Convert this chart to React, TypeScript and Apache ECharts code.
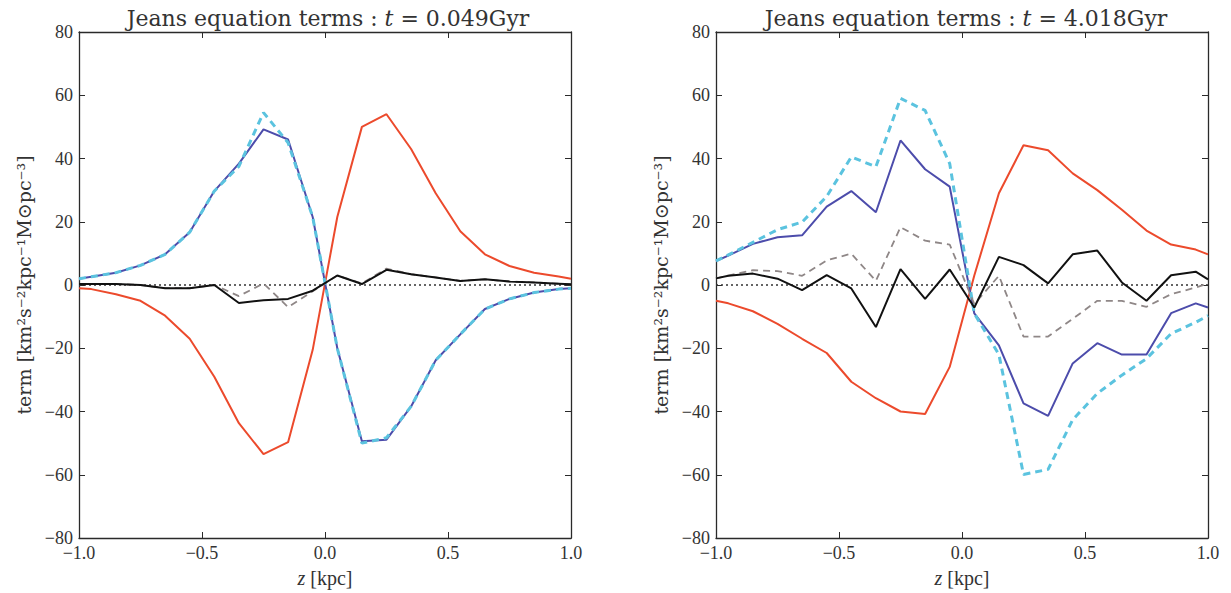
import React, { useEffect, useRef } from "react";
import * as echarts from "echarts";

const Z = [-1.0, -0.95, -0.85, -0.75, -0.65, -0.55, -0.45, -0.35, -0.25, -0.15, -0.05, 0.05, 0.15, 0.25, 0.35, 0.45, 0.55, 0.65, 0.75, 0.85, 0.95, 1.0];

// t = 0.049 Gyr
const blueL = [2.0, 2.6, 3.9, 6.2, 9.7, 16.7, 29.7, 38.4, 49.2, 46.0, 21.5, -20.0, -49.4, -48.9, -38.4, -23.8, -15.6, -7.6, -4.4, -2.4, -1.3, -1.0];
const cyanL = [2.0, 2.6, 3.9, 6.2, 9.7, 16.7, 29.7, 37.5, 54.5, 45.0, 21.5, -20.0, -50.0, -48.3, -38.4, -23.8, -15.6, -7.6, -4.4, -2.4, -1.3, -1.0];
const redL = [-1.0, -1.3, -2.9, -5.0, -9.7, -17.0, -29.0, -43.7, -53.5, -49.7, -20.5, 21.5, 50.0, 54.0, 43.0, 29.0, 17.0, 9.7, 6.0, 3.9, 2.7, 2.0];
const blackL = [0.3, 0.3, 0.3, 0.0, -1.0, -1.0, 0.0, -5.7, -4.8, -4.4, -1.8, 3.0, 0.3, 4.8, 3.4, 2.4, 1.3, 1.8, 1.1, 0.8, 0.4, 0.2];
const grayL = [0.3, 0.3, 0.3, 0.0, -1.0, -1.0, 0.0, -3.5, 0.5, -7.0, -2.0, 3.0, 0.5, 5.2, 3.4, 2.4, 1.3, 1.8, 1.1, 0.8, 0.4, 0.2];

// t = 4.018 Gyr
const blueR = [7.6, 9.3, 13.0, 15.1, 15.7, 24.8, 29.7, 23.0, 45.7, 36.6, 31.1, -9.0, -19.1, -37.4, -41.4, -24.8, -18.4, -22.0, -22.0, -8.9, -5.8, -7.1];
const cyanR = [7.6, 9.5, 13.5, 17.5, 19.9, 28.0, 40.5, 37.4, 59.0, 55.2, 38.4, -9.0, -22.0, -59.9, -58.3, -42.6, -34.3, -28.5, -23.3, -15.4, -11.8, -9.7];
const redR = [-5.0, -5.8, -8.3, -12.3, -17.0, -21.5, -30.6, -35.8, -40.0, -40.8, -25.9, 3.0, 29.0, 44.2, 42.6, 35.3, 30.0, 23.8, 17.2, 12.8, 11.2, 9.7];
const blackR = [2.1, 2.9, 3.6, 2.0, -1.6, 3.1, -1.1, -13.3, 5.0, -4.4, 4.9, -7.1, 8.9, 6.3, 0.5, 9.7, 10.9, 0.8, -5.0, 3.1, 4.2, 1.8];
const grayR = [2.1, 3.0, 4.7, 4.4, 2.9, 7.8, 9.9, 1.3, 18.3, 14.0, 12.8, -6.0, 2.9, -16.3, -16.3, -10.7, -5.0, -5.0, -6.9, -2.9, -0.8, 0.5];

const zeroLine = [[-1, 0], [1, 0]];
const titles = ["0.049Gyr", "4.018Gyr"];

const FONT = "Liberation Serif";
const WIDE = "DejaVu Serif";
const AXIS_COLOR = "#2a2a2a";

const pairs = (arr: number[]) => Z.map((z, i) => [z, arr[i]]);
const minus = (s: string) => s.replace("-", "\u2212");

function App() {
  const ref = useRef<HTMLDivElement>(null);
  useEffect(() => {
    if (!ref.current) return;
    const chart = echarts.init(ref.current, undefined, { renderer: "svg" });
    const grids = [
      { left: 79, top: 32, width: 492, height: 510 },
      { left: 716, top: 32, width: 492, height: 510 },
    ];
    const tickStyle = { show: true, inside: true, length: 6, lineStyle: { color: AXIS_COLOR, width: 1 } };
    const lineStyle = { color: AXIS_COLOR, width: 1.3 };
    const axisLine = { show: true, onZero: false, lineStyle };
    const labelStyle = { color: "#333", fontFamily: FONT, fontSize: 18, margin: 6 };
    const xAxes: any[] = [];
    const yAxes: any[] = [];
    [0, 1].forEach((g) => {
      xAxes.push({
        type: "value", gridIndex: g, min: -1, max: 1, interval: 0.5, position: "bottom",
        axisLine, axisTick: tickStyle, splitLine: { show: false },
        axisLabel: { ...labelStyle, formatter: (v: number) => minus(v.toFixed(1)) },
        name: "{i|z} [kpc]", nameLocation: "middle", nameGap: 30,
        nameTextStyle: { color: "#333", fontFamily: FONT, fontSize: 20, rich: { i: { fontStyle: "italic", fontFamily: FONT, fontSize: 20, color: "#333" } } },
      });
      xAxes.push({
        type: "value", gridIndex: g, min: -1, max: 1, interval: 0.5, position: "top",
        axisLine, axisTick: tickStyle, splitLine: { show: false }, axisLabel: { show: false },
      });
      yAxes.push({
        type: "value", gridIndex: g, min: -80, max: 80, interval: 20, position: "left",
        axisLine, axisTick: tickStyle, splitLine: { show: false },
        axisLabel: { ...labelStyle, formatter: (v: number) => minus(String(v)) },
        name: "term [km\u00b2s\u207b\u00b2kpc\u207b\u00b9M\u2299pc\u207b\u00b3]", nameLocation: "middle", nameGap: 46,
        nameTextStyle: { color: "#333", fontFamily: WIDE, fontSize: 19 },
      });
      yAxes.push({
        type: "value", gridIndex: g, min: -80, max: 80, interval: 20, position: "right",
        axisLine, axisTick: tickStyle, splitLine: { show: false }, axisLabel: { show: false },
      });
    });

    const series: any[] = [];
    const sets = [
      { red: redL, blue: blueL, cyan: cyanL, black: blackL, gray: grayL },
      { red: redR, blue: blueR, cyan: cyanR, black: blackR, gray: grayR },
    ];
    sets.forEach((s, g) => {
      const xi = g * 2;
      const yi = g * 2;
      const base = { type: "line", xAxisIndex: xi, yAxisIndex: yi, showSymbol: false, symbol: "none", silent: true };
      series.push({ ...base, data: zeroLine, lineStyle: { color: "#333", width: 1.5, type: [2, 3] } });
      series.push({ ...base, data: pairs(s.red), lineStyle: { color: "#ec4a2c", width: 2 } });
      series.push({ ...base, data: pairs(s.blue), lineStyle: { color: "#4c4cab", width: 2 } });
      series.push({ ...base, data: pairs(s.cyan), lineStyle: { color: "#5bc3df", width: 3, type: [7, 5] } });
      series.push({ ...base, data: pairs(s.gray), lineStyle: { color: "#8f8787", width: 1.8, type: [7, 5] } });
      series.push({ ...base, data: pairs(s.black), lineStyle: { color: "#111111", width: 2 } });
    });

    chart.setOption({
      animation: false,
      backgroundColor: "#ffffff",
      textStyle: { fontFamily: FONT },
      title: titles.map((t, g) => ({
        text: "Jeans equation terms : {i|t} = " + t,
        left: g === 0 ? 323 : 961,
        top: 2,
        textAlign: "center",
        textStyle: {
          color: "#333", fontFamily: WIDE, fontSize: 22, fontWeight: "normal",
          rich: { i: { fontStyle: "italic", fontFamily: WIDE, fontSize: 22, color: "#333" } },
        },
      })),
      grid: grids,
      xAxis: xAxes,
      yAxis: yAxes,
      series,
    });
    return () => chart.dispose();
  }, []);
  return <div ref={ref} style={{ position: "fixed", left: 0, top: 0, width: 1231, height: 593 }} />;
}

export default App;
